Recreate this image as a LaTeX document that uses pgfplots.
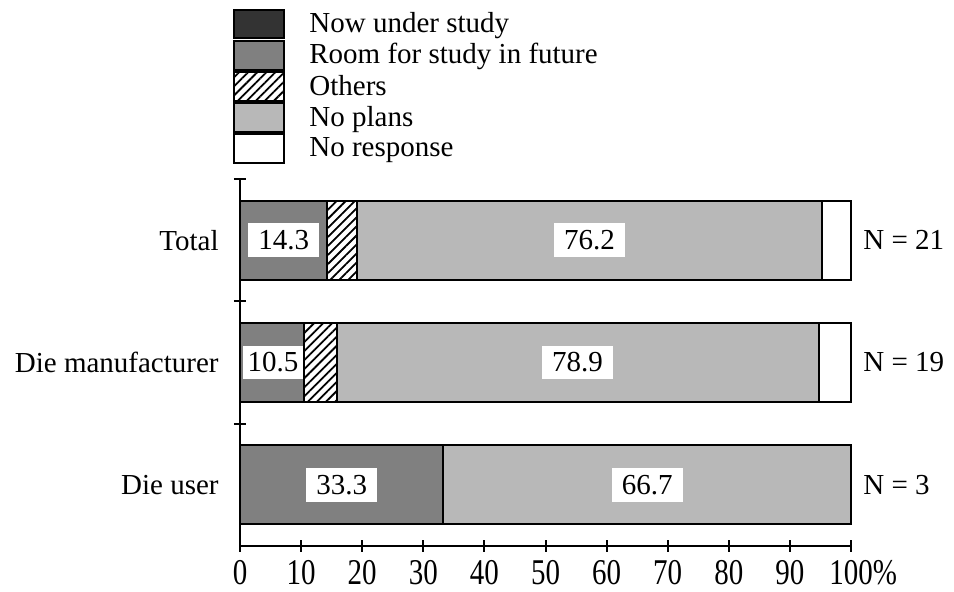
\documentclass[border=0pt]{standalone}
\usepackage{fontspec}
\setmainfont{Liberation Serif}
\usepackage{pgfplots}
\pgfplotsset{compat=1.18}
\usetikzlibrary{patterns.meta}

\begin{document}
\begin{tikzpicture}[font=\fontsize{14.5}{16}\selectfont,
  lbl/.style={fill=white, inner xsep=5pt, inner ysep=3.5pt},
  nlbl/.style={anchor=west, inner sep=0pt, xshift=6pt}]
\useasboundingbox (0,0) rectangle (477pt,296pt);
\begin{axis}[
  at={(120pt,23pt)}, anchor=south west,
  scale only axis, width=305.5pt, height=183.5pt,
  clip=false,
  xbar stacked, bar width=0.646,
  legend image code/.code={\draw[#1] (0pt,-7.2pt) rectangle (25pt,7.2pt);},
  xmin=0, xmax=100, ymin=-0.5, ymax=2.5,
  axis x line*=bottom, axis y line*=left,
  axis line style={line width=1pt, black},
  xtick={0,10,...,100},
  xticklabels={0,10,20,30,40,50,60,70,80,90,100\rlap{\%}},
  xticklabel style={yscale=1.25},
  major tick length=6pt, tick align=center,
  x tick style={line width=1pt, black},
  ytick={0,1,2}, yticklabels={Die user,Die manufacturer,Total},
  y tick style={draw=none},
  yticklabel style={inner sep=0pt, xshift=-7.5pt},
  extra y ticks={0.5,1.5,2.5},
  extra y tick labels={},
  extra y tick style={y tick style={draw=black, line width=1pt}},
  /pgf/number format/assume math mode=true,
  legend style={at={(axis description cs:0,1)}, anchor=north west,
    xshift=-3.5pt, yshift=85.5pt, draw=none, fill=none, inner sep=0pt,
    row sep=0pt, cells={anchor=west},
    /tikz/every odd column/.append style={column sep=10pt}},
  every axis plot/.append style={draw=black, line width=1pt},
  after end axis/.code={
    \node[lbl] at (axis cs:7.15,2) {14.3};
    \node[lbl] at (axis cs:57.2,2) {76.2};
    \node[lbl, inner xsep=2.5pt] at (axis cs:5.4,1) {10.5};
    \node[lbl] at (axis cs:55.25,1) {78.9};
    \node[lbl] at (axis cs:16.65,0) {33.3};
    \node[lbl] at (axis cs:66.65,0) {66.7};
    \node[nlbl] at (axis cs:100,2) {N = 21};
    \node[nlbl] at (axis cs:100,1) {N = 19};
    \node[nlbl] at (axis cs:100,0) {N = 3};
  },
]
\addplot[fill=black!80] coordinates {(0,2) (0,1) (0,0)};
\addplot[fill=black!50] coordinates {(14.3,2) (10.5,1) (33.3,0)};
\addplot[fill=white, pattern={Lines[angle=45,distance=3.2pt,line width=0.9pt]}, pattern color=black] coordinates {(4.8,2) (5.3,1) (0,0)};
\addplot[fill=black!28] coordinates {(76.2,2) (78.9,1) (66.7,0)};
\addplot[fill=white] coordinates {(4.7,2) (5.3,1) (0,0)};
\legend{Now under study, Room for study in future, Others, No plans, No response}
\end{axis}
\end{tikzpicture}
\end{document}
